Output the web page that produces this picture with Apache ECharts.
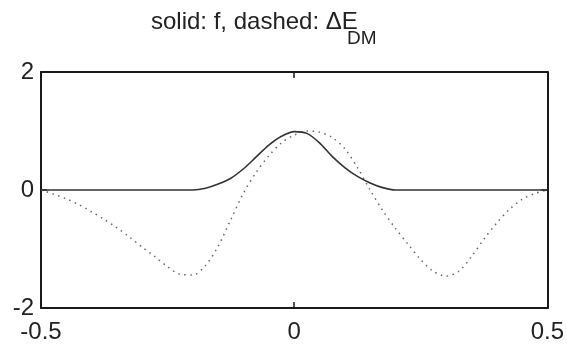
<!DOCTYPE html>
<html>
<head>
<meta charset="utf-8">
<script src="https://cdn.jsdelivr.net/npm/echarts@6/dist/echarts.min.js"></script>
<style>
html,body{margin:0;padding:0;background:#fff;}
#main{width:567px;height:346px;}
</style>
</head>
<body>
<div id="main"></div>
<script>
var xValues = [-0.5,-0.475,-0.45,-0.425,-0.4,-0.375,-0.35,-0.325,-0.3,-0.275,-0.25,-0.225,-0.2,-0.175,-0.15,-0.125,-0.1,-0.075,-0.05,-0.025,0,0.025,0.05,0.075,0.1,0.125,0.15,0.175,0.2,0.225,0.25,0.275,0.3,0.325,0.35,0.375,0.4,0.425,0.45,0.475,0.5];
var fSolid = [0,0,0,0,0,0,0,0,0,0,0,0,0,0.03,0.1,0.2,0.36,0.56,0.76,0.91,0.99,0.96,0.8,0.57,0.38,0.23,0.12,0.04,0,0,0,0,0,0,0,0,0,0,0,0,0];
var dEDashed = [0,-0.07,-0.15,-0.25,-0.37,-0.5,-0.64,-0.8,-0.97,-1.13,-1.3,-1.43,-1.44,-1.28,-0.95,-0.5,-0.05,0.3,0.58,0.8,0.93,1.0,0.98,0.89,0.7,0.38,0.0,-0.35,-0.65,-0.92,-1.18,-1.38,-1.46,-1.38,-1.13,-0.83,-0.56,-0.33,-0.16,-0.06,0];
var xTicks = [-0.5, 0, 0.5];
var yTicks = [-2, 0, 2];
var titleMain = 'solid: f, dashed: \u0394E';
var titleSub = 'DM';

var FONT = "'Liberation Sans Narrow', 'Liberation Sans', Arial, sans-serif";
var chart = echarts.init(document.getElementById('main'), null, {renderer: 'canvas'});

function pairs(ys){ return xValues.map(function(x,i){ return [x, ys[i]]; }); }

var axisLineStyle = {show: true, lineStyle: {color: '#1a1a1a', width: 2}};
var tickStyle = {show: true, inside: true, length: 6, lineStyle: {color: '#1a1a1a', width: 1.5}};

chart.setOption({
  animation: false,
  backgroundColor: '#ffffff',
  title: [{
    text: titleMain,
    left: 146,
    top: 5,
    textStyle: {fontFamily: FONT, fontSize: 24, fontWeight: 'normal', color: '#222'}
  }, {
    text: titleSub,
    left: 342,
    top: 24,
    textStyle: {fontFamily: FONT, fontSize: 19, fontWeight: 'normal', color: '#222'}
  }],
  grid: {left: 41, right: 15, top: 72, bottom: 38, show: false, containLabel: false},
  xAxis: [{
    type: 'value', min: -0.5, max: 0.5, interval: 0.5, position: 'bottom',
    axisLine: Object.assign({onZero: false}, axisLineStyle),
    axisTick: tickStyle,
    splitLine: {show: false},
    axisLabel: {show: true, fontFamily: FONT, fontSize: 24, color: '#222', margin: 12, showMinLabel: true, showMaxLabel: true,
      formatter: function(v){ return xTicks.indexOf(v) >= 0 ? String(v) : ''; }}
  }, {
    type: 'value', min: -0.5, max: 0.5, interval: 0.5, position: 'top',
    axisLine: Object.assign({onZero: false}, axisLineStyle),
    axisTick: tickStyle,
    splitLine: {show: false},
    axisLabel: {show: false}
  }],
  yAxis: [{
    type: 'value', min: -2, max: 2, interval: 2, position: 'left',
    axisLine: Object.assign({onZero: false}, axisLineStyle),
    axisTick: tickStyle,
    splitLine: {show: false},
    axisLabel: {show: true, fontFamily: FONT, fontSize: 24, color: '#222', margin: 7, showMinLabel: true, showMaxLabel: true,
      formatter: function(v){ return yTicks.indexOf(v) >= 0 ? String(v) : ''; }}
  }, {
    type: 'value', min: -2, max: 2, interval: 2, position: 'right',
    axisLine: Object.assign({onZero: false}, axisLineStyle),
    axisTick: tickStyle,
    splitLine: {show: false},
    axisLabel: {show: false}
  }],
  series: [{
    name: 'f', type: 'line', data: pairs(fSolid), showSymbol: false, smooth: 0.3,
    lineStyle: {color: '#333333', width: 1.6, type: 'solid'}, z: 3
  }, {
    name: 'dE', type: 'line', data: pairs(dEDashed), showSymbol: false, smooth: 0.3,
    lineStyle: {color: '#666666', width: 1.5, type: [1.5, 4.5]}, z: 2
  }]
});
</script>
</body>
</html>
